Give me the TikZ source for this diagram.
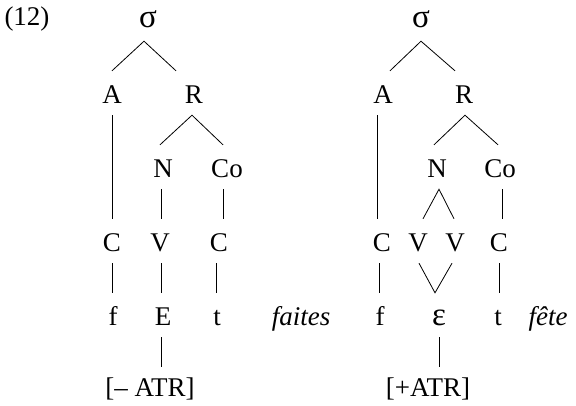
\documentclass[tikz,border=0pt]{standalone}
\usepackage{fontspec}
\setmainfont{Liberation Serif}
\begin{document}
\begin{tikzpicture}[x=1pt,y=-1pt,
  lab/.style={anchor=base,inner xsep=0pt,inner ysep=12pt,text height=20pt,text depth=0pt,
              font=\fontsize{27}{32}\selectfont},
  greek/.style={lab,font=\fontsize{33}{38}\selectfont},
  root/.style={greek,inner ysep=14pt},
  feat/.style={lab,inner ysep=9pt},
  plain/.style={anchor=base,inner sep=0pt,font=\fontsize{27}{32}\selectfont},
  gloss/.style={anchor=base,inner sep=0pt,font=\fontsize{27}{32}\selectfont\itshape},
  edge/.style={line width=0.8pt}]
\useasboundingbox (0,0) rectangle (576,405);

\node[plain] (num) at (27,25) {(12)};

% ---- faites ----
\node[root] (s1)  at (148,27)  {σ};
\node[lab]  (A1)  at (112,103) {A};
\node[lab]  (R1)  at (194,103) {R};
\node[lab]  (N1)  at (163,177) {N};
\node[lab]  (Co1) at (227,177) {Co};
\node[lab]  (Ca1) at (112,251) {C};
\node[lab]  (V1)  at (160,251) {V};
\node[lab]  (Cb1) at (219,251) {C};
\node[lab]  (f1)  at (113,325) {f};
\node[lab]  (E1)  at (163,325) {E};
\node[lab]  (t1)  at (217,325) {t};
\node[feat] (F1)  at (150,396) {[– ATR]};
\node[gloss] (w1) at (301,325) {faites};

\draw[edge] (A1.north) -- ([xshift=-4pt]s1.south) -- ([xshift=-18pt]R1.north);
\draw[edge] ([xshift=-3pt]N1.north) -- ([xshift=-2pt]R1.south) -- ([xshift=-4pt]Co1.north);
\draw[edge] (A1.south) -- (A1.south |- Ca1.north);
\draw[edge] ([xshift=-2pt]N1.south) -- ([xshift=-2pt]N1.south |- V1.north);
\draw[edge] ([xshift=-4pt]Co1.south) -- ([xshift=-4pt]Co1.south |- Cb1.north);
\draw[edge] (Ca1.south) -- (Ca1.south |- f1.north);
\draw[edge] ([xshift=1pt]V1.south) -- ([xshift=1pt]V1.south |- E1.north);
\draw[edge] ([xshift=-3pt]Cb1.south) -- ([xshift=-3pt]Cb1.south |- t1.north);
\draw[edge] ([xshift=-2pt]E1.south) -- ([xshift=-2pt]E1.south |- F1.north);

% ---- fete ----
\node[root] (s2)  at (421,27)  {σ};
\node[lab]  (A2)  at (383,103) {A};
\node[lab]  (R2)  at (464,103) {R};
\node[lab]  (N2)  at (437,177) {N};
\node[lab]  (Co2) at (500,177) {Co};
\node[lab]  (Ca2) at (382,251) {C};
\node[lab]  (Va2) at (418,251) {V};
\node[lab]  (Vb2) at (455,251) {V};
\node[lab]  (Cb2) at (499,251) {C};
\node[lab]  (f2)  at (380,325) {f};
\node[greek] (e2) at (439,325) {ε};
\node[lab]  (t2)  at (498,325) {t};
\node[feat] (F2)  at (428,396) {[+ATR]};
\node[gloss] (w2) at (548,325) {fête};

\draw[edge] ([xshift=7pt]A2.north) -- (s2.south) -- ([xshift=-9pt]R2.north);
\draw[edge] ([xshift=-3pt]N2.north) -- ([xshift=1pt]R2.south) -- ([xshift=-2pt]Co2.north);
\draw[edge] ([xshift=-6pt]A2.south) -- ([xshift=-6pt]A2.south |- Ca2.north);
\draw[edge] ([xshift=5pt]Va2.north) -- ([xshift=2pt]N2.south) -- ([xshift=-1pt]Vb2.north);
\draw[edge] ([xshift=2pt]Co2.south) -- ([xshift=2pt]Co2.south |- Cb2.north);
\draw[edge] ([xshift=-3pt]Ca2.south) -- ([xshift=-3pt]Ca2.south |- f2.north);
\draw[edge] ([xshift=1pt]Va2.south) -- ([xshift=-4pt]e2.north) -- ([xshift=-3pt]Vb2.south);
\draw[edge] (Cb2.south) -- (Cb2.south |- t2.north);
\draw[edge] (e2.south) -- (e2.south |- F2.north);
\end{tikzpicture}
\end{document}
